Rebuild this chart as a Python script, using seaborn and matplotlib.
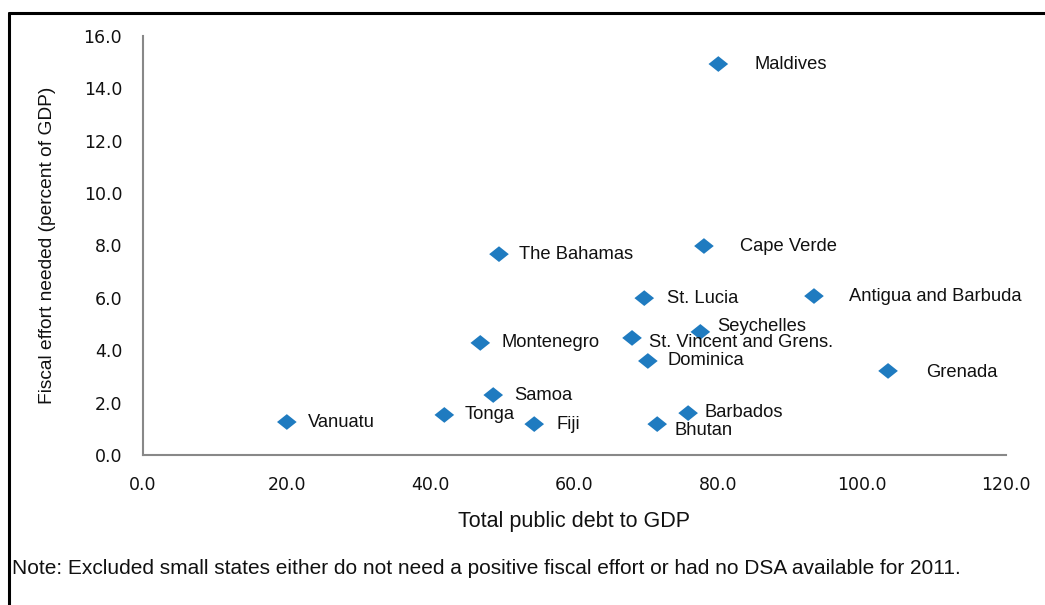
import matplotlib
matplotlib.use("Agg")
import matplotlib.pyplot as plt
import seaborn as sns
import pandas as pd
from matplotlib.lines import Line2D

countries = ["Maldives", "Cape Verde", "The Bahamas", "Antigua and Barbuda", "St. Lucia",
             "Seychelles", "St. Vincent and Grens.", "Montenegro", "Dominica", "Grenada",
             "Samoa", "Barbados", "Tonga", "Vanuatu", "Fiji", "Bhutan"]
debt = [80.0, 78.0, 49.5, 93.3, 69.7, 77.5, 68.0, 46.9, 70.2, 103.6, 48.7, 75.8, 41.9, 20.0, 54.4, 71.5]
effort = [14.93, 7.98, 7.67, 6.07, 5.99, 4.70, 4.47, 4.28, 3.59, 3.21, 2.29, 1.60, 1.53, 1.26, 1.18, 1.18]

# label offsets in pixels (dx right, dy down) - layout only
label_offsets_px = [(36, 0), (36, 0), (20, 0), (35, 0), (23, 0), (17, -5), (17, 5), (21, 0),
                    (20, 0), (38, 2), (21, 0), (16, -1), (20, 0), (21, 0), (22, 0), (17, 6)]

x_ticks = [0, 20, 40, 60, 80, 100, 120]
y_ticks = [0, 2, 4, 6, 8, 10, 12, 14, 16]

df = pd.DataFrame({"country": countries, "debt": debt, "effort": effort})

sns.set_theme(style="white")
plt.rcParams["font.family"] = ["Liberation Sans", "DejaVu Sans"]

fig = plt.figure(figsize=(10.45, 6.05), dpi=100)
ax = fig.add_axes([143 / 1045, 1 - 455 / 605, (1006 - 143) / 1045, (455 - 36) / 605])

diamond = [(-1.25, 0), (0, 1), (1.25, 0), (0, -1), (-1.25, 0)]
sns.scatterplot(data=df, x="debt", y="effort", ax=ax, marker=diamond, s=200,
                color="#1f7bc0", edgecolor="none", linewidth=0, zorder=3)

for name, xv, yv, (dx, dy) in zip(countries, debt, effort, label_offsets_px):
    ax.annotate(name, (xv, yv), xytext=(dx * 0.72, -dy * 0.72), textcoords="offset points",
                ha="left", va="center", fontsize=13.2, color="#111111",
                family=["Liberation Sans", "DejaVu Sans"])

ax.set_xlim(0, 120)
ax.set_ylim(0, 16)
ax.set_xticks(x_ticks)
ax.set_yticks(y_ticks)
ax.set_xticklabels([f"{v:.1f}" for v in x_ticks], family=["DejaVu Sans"], fontsize=12.5)
ax.set_yticklabels([f"{v:.1f}" for v in y_ticks], family=["DejaVu Sans"], fontsize=12.5)

for side in ["top", "right"]:
    ax.spines[side].set_visible(False)
for side in ["left", "bottom"]:
    ax.spines[side].set_color("#888888")
    ax.spines[side].set_linewidth(1.5)

ax.tick_params(axis="y", direction="out", length=5, width=1.2, color="#888888", pad=10, labelcolor="#111111")
ax.tick_params(axis="x", direction="out", length=4, width=1.2, color="#888888", pad=11, labelcolor="#111111")
ax.grid(False)

ax.set_xlabel("Total public debt to GDP", fontsize=15.5, color="#111111", labelpad=12)
ax.set_ylabel("Fiscal effort needed (percent of GDP)", fontsize=13.8, color="#111111", labelpad=20)

fig.text(12 / 1045, 1 - 568 / 605,
         "Note: Excluded small states either do not need a positive fiscal effort or had no DSA available for 2011.",
         ha="left", va="center", fontsize=15, color="#111111")

# outer frame lines (top and left)
fig.add_artist(Line2D([9 / 1045, 1.0], [1 - 13 / 605, 1 - 13 / 605], transform=fig.transFigure,
                      color="black", linewidth=2.2))
fig.add_artist(Line2D([9 / 1045, 9 / 1045], [0.0, 1 - 13 / 605], transform=fig.transFigure,
                      color="black", linewidth=2.2))

fig.savefig("out.png", dpi=100, facecolor="white")
